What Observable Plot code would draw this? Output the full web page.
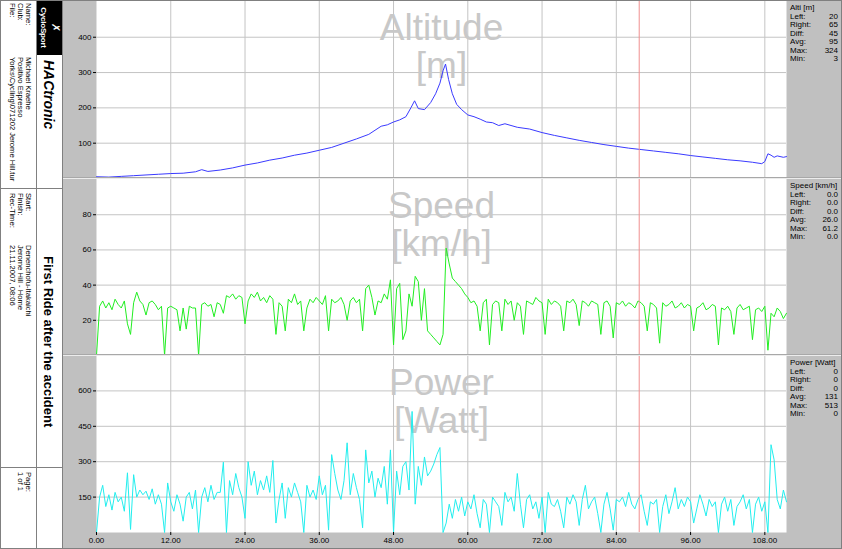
<!DOCTYPE html>
<html>
<head>
<meta charset="utf-8">
<script src="https://cdn.jsdelivr.net/npm/d3@7"></script>
<script src="https://cdn.jsdelivr.net/npm/@observablehq/plot@0.6"></script>
<style>
html, body { margin: 0; padding: 0; background: #fff; }
#root { position: relative; width: 842px; height: 549px; overflow: hidden; background: #c0c0c0;
  font-family: Arial, "Liberation Sans", sans-serif; color: #000; }
#left { position: absolute; left: 0; top: 0; width: 62px; height: 549px; background: #fff; }
#hdr { position: absolute; left: 62px; top: 0; width: 549px; height: 62px; transform-origin: 0 0; transform: rotate(90deg); }
#hdr div { position: absolute; white-space: nowrap; }
.small { font-size: 7.6px; line-height: 8px; }
.pane { position: absolute; left: 62px; }
.stats { position: absolute; left: 786px; width: 52px; font-size: 8px; line-height: 8.5px; }
.stats .row { position: relative; height: 8.5px; padding-left: 4px; }
.stats .row span.v { position: absolute; right: 0; top: 0; }
.sep { position: absolute; left: 62px; width: 780px; height: 1px; }
</style>
</head>
<body>
<div id="root">
  <div id="left"><div id="hdr"></div></div>
</div>
<script>
// ---------- data ----------
const xMax = 111.5;
const xTicks = [0, 12, 24, 36, 48, 60, 72, 84, 96, 108];
const cursorKm = 87.7;
const step = 0.5;

const altKm = [0, 2, 4, 6, 8, 10, 12, 14, 16, 17, 18, 20, 22, 24, 26, 28, 30, 32, 34, 36, 38, 40, 42, 44, 46, 47, 48, 49, 50, 50.8, 51.4, 52, 53, 54, 54.8, 55.5, 56, 56.4, 56.9, 57.5, 58.2, 59, 60, 61, 62, 63, 64, 65, 66, 68, 70, 72, 74, 76, 78, 80, 82, 84, 86, 88, 90, 92, 94, 96, 98, 100, 102, 104, 106, 107.5, 108, 108.5, 109, 109.5, 110, 111, 111.5];
const altM = [5, 4, 6, 8, 10, 12, 14, 15, 19, 25, 20, 24, 30, 38, 44, 52, 58, 66, 72, 80, 88, 100, 112, 125, 148, 152, 160, 166, 175, 200, 220, 198, 195, 215, 240, 270, 305, 324, 280, 240, 210, 195, 180, 175, 168, 160, 158, 150, 155, 145, 140, 130, 122, 115, 108, 102, 96, 91, 86, 82, 78, 74, 70, 65, 61, 57, 53, 50, 46, 42, 48, 70, 66, 60, 64, 60, 62];

const speedKmh = [
  0, 28, 31, 27, 30, 26, 32, 29, 27, 31,
  18, 12, 30, 36, 31, 29, 23, 30, 31, 29,
  26, 28, 0, 27, 28, 27, 26, 14, 27, 15,
  28, 27, 27, 0, 29, 30, 28, 29, 22, 30,
  29, 24, 34, 33, 35, 32, 34, 33, 18, 31,
  35, 33, 36, 31, 33, 30, 34, 32, 12, 30,
  28, 14, 32, 30, 35, 29, 31, 14, 27, 32,
  30, 33, 31, 29, 34, 14, 32, 30, 31, 33,
  29, 20, 31, 33, 30, 32, 14, 38, 40, 33,
  23, 31, 30, 35, 32, 43, 6, 38, 41, 9,
  14, 35, 28, 45, 42, 20, 38, 14, 12, 10,
  8, 6, 12, 61, 52, 44, 42, 40, 38, 35,
  33, 30, 31, 28, 14, 30, 32, 6, 29, 31,
  30, 14, 32, 29, 31, 20, 30, 28, 12, 31,
  30, 29, 33, 31, 30, 12, 32, 29, 31, 30,
  28, 14, 31, 30, 32, 29, 17, 31, 30, 28,
  31, 30, 29, 12, 30, 31, 28, 10, 30, 29,
  31, 28, 30, 29, 27, 31, 30, 28, 14, 30,
  29, 27, 7, 30, 28, 29, 31, 27, 28, 30,
  27, 29, 28, 14, 27, 28, 30, 26, 27, 29,
  28, 6, 27, 26, 28, 25, 12, 27, 29, 26,
  27, 28, 9, 26, 27, 25, 28, 3, 24, 22,
  27, 25, 21, 24
];

const powerW = [
  0, 150, 200, 110, 160, 95, 170, 130, 150, 90,
  253, 13, 245, 150, 180, 160, 175, 140, 185, 120,
  160, 120, 0, 210, 130, 90, 160, 120, 48, 150,
  170, 100, 180, 0, 150, 190, 130, 200, 140, 170,
  170, 298, 0, 220, 160, 250, 190, 150, 60, 300,
  200, 260, 160, 220, 180, 240, 170, 305, 40, 140,
  210, 60, 190, 150, 210, 170, 130, 0, 200, 150,
  180, 140, 240, 160, 200, 10, 330, 250, 180, 140,
  220, 380, 160, 250, 190, 140, 20, 350, 210, 260,
  150, 230, 190, 280, 120, 350, 0, 260, 160, 280,
  300, 180, 513, 120, 280, 200, 320, 240, 260, 290,
  330, 360, 0, 40, 120, 60, 140, 90, 150, 70,
  130, 100, 160, 80, 20, 140, 120, 0, 150, 130,
  110, 30, 170, 130, 150, 90, 250, 120, 20, 140,
  160, 100, 130, 60, 150, 0, 170, 120, 110, 140,
  90, 20, 150, 120, 160, 130, 30, 140, 200, 100,
  130, 150, 80, 0, 120, 170, 100, 10, 140, 130,
  150, 110, 170, 120, 100, 140, 160, 90, 30, 130,
  120, 140, 0, 110, 160, 80, 130, 190, 100, 140,
  110, 150, 130, 40, 100, 160, 120, 70, 140, 110,
  130, 0, 120, 150, 90, 140, 30, 110, 130, 160,
  100, 140, 0, 120, 150, 90, 130, 0, 372, 308,
  140, 100, 180, 130
];

const altTicks = [100, 200, 300, 400];
const speedTicks = [20, 40, 60, 80];
const powerTicks = [150, 300, 450, 600];

const titles = ["Altitude\n[m]", "Speed\n[km/h]", "Power\n[Watt]"];
const statHeads = ["Alti [m]", "Speed [km/h]", "Power [Watt]"];
const statLabels = ["Left:", "Right:", "Diff:", "Avg:", "Max:", "Min:"];
const altStats = ["20", "65", "45", "95", "324", "3"];
const speedStats = ["0.0", "0.0", "0.0", "26.0", "61.2", "0.0"];
const powerStats = ["0", "0", "0", "131", "513", "0"];

const logoText = "CycloSport";
const programName = "HACtronic";
const headLabels1 = ["Name:", "Club:", "File:"];
const headValues1 = ["Michael Kraehe", "Positivo Espresso", "Yorks\\Cycling\\071202 Jerome Hill.tur"];
const headLabels2 = ["Start:", "Finish:", "Rec-Time:"];
const headValues2 = ["Denenchofu-Itakaichi", "Jerome Hill - Home", "21.11.2007, 08:06"];
const rideTitle = "First Ride after the accident";
const pageInfo = ["Page:", "1 of 1"];

// ---------- build ----------
const root = document.getElementById("root");
const FONT = "Arial, 'Liberation Sans', sans-serif";

function panel(series, {domain, ticks, title, stroke, height, marginBottom = 0, xAxis = false}) {
  const marks = [
    Plot.frame({fill: "#fff", stroke: "none"}),
    Plot.gridX(xTicks.slice(1), {stroke: "#c4c4c4", strokeOpacity: 1}),
    Plot.gridY(ticks, {stroke: "#c4c4c4", strokeOpacity: 1}),
    Plot.text([title], {text: d => d, frameAnchor: "top", lineAnchor: "top", dy: 12, fontSize: 37,
      fill: "#c8c8c8", lineHeight: 1.03, fontFamily: FONT}),
    Plot.axisY(ticks, {tickSize: 3, tickPadding: 2, fontSize: 8, label: null, stroke: "#000", fill: "#000"}),
    Plot.line(series, {x: "km", y: "v", stroke, strokeWidth: 1}),
    Plot.ruleX([cursorKm], {stroke: "#f09090", strokeWidth: 1})
  ];
  if (xAxis) marks.push(Plot.axisX(xTicks, {tickSize: 3, tickPadding: 2, fontSize: 8, label: null,
    tickFormat: d3.format(".2f"), stroke: "#000", fill: "#000"}));
  return Plot.plot({
    width: 724, height,
    marginLeft: 34, marginRight: 0, marginTop: 0, marginBottom,
    style: `background: transparent; font-family: ${FONT}; font-size: 8px; color: #000; overflow: visible;`,
    x: {domain: [0, xMax], axis: xAxis ? undefined : null},
    y: {domain, axis: null},
    marks
  });
}

const altSeries = altKm.map((k, i) => ({km: k, v: altM[i]}));
const speedSeries = speedKmh.map((v, i) => ({km: i * step, v}));
const powerSeries = powerW.map((v, i) => ({km: i * step, v}));

const panes = [
  {top: 0, el: panel(altSeries, {domain: [0, 504], ticks: altTicks, title: titles[0], stroke: "#3a3aff", height: 178})},
  {top: 178, el: panel(speedSeries, {domain: [0, 100.6], ticks: speedTicks, title: titles[1], stroke: "#22ee22", height: 177})},
  {top: 355, el: panel(powerSeries, {domain: [0, 750], ticks: powerTicks, title: titles[2], stroke: "#22eeee", height: 194, marginBottom: 17, xAxis: true})}
];
for (const p of panes) {
  const d = document.createElement("div");
  d.className = "pane";
  d.style.top = p.top + "px";
  d.appendChild(p.el);
  root.appendChild(d);
}

// separators
for (const [y, c] of [[177, "#a8a8a8"], [178, "#ececec"], [354, "#a8a8a8"], [355, "#ececec"]]) {
  const s = document.createElement("div");
  s.className = "sep";
  s.style.top = y + "px";
  s.style.background = c;
  root.appendChild(s);
}

// stats
const statSets = [altStats, speedStats, powerStats];
[0, 178, 355].forEach((top, k) => {
  const box = document.createElement("div");
  box.className = "stats";
  box.style.top = (top + 4) + "px";
  const h = document.createElement("div");
  h.className = "row";
  h.textContent = statHeads[k];
  box.appendChild(h);
  statLabels.forEach((lab, i) => {
    const r = document.createElement("div");
    r.className = "row";
    r.innerHTML = `<span>${lab}</span><span class="v">${statSets[k][i]}</span>`;
    box.appendChild(r);
  });
  root.appendChild(box);
});

// borders
function rect(parent, x, y, w, h, c) {
  const d = document.createElement("div");
  d.style.cssText = `position:absolute;left:${x}px;top:${y}px;width:${w}px;height:${h}px;background:${c}`;
  parent.appendChild(d);
  return d;
}
rect(root, 0, 0, 842, 1, "#808080");
rect(root, 0, 548, 842, 1, "#808080");
rect(root, 0, 0, 1, 549, "#808080");
rect(root, 841, 0, 1, 549, "#808080");
rect(root, 62, 0, 1, 549, "#808080");

// rotated header (unrotated coords: u along 549, v along 62)
const hdr = document.getElementById("hdr");
const logo = rect(hdr, 0, 0, 55, 25, "#000");
logo.innerHTML = `<div style="position:absolute;left:0;width:55px;top:1px;text-align:center;color:#fff;font:bold 11px 'DejaVu Sans';line-height:11px">&#x2717;</div>
<div style="position:absolute;left:0;width:55px;top:14px;text-align:center;color:#fff;font:bold 8px ${FONT};line-height:9px;letter-spacing:-0.2px">${logoText}</div>`;
const prog = document.createElement("div");
prog.style.cssText = `left:60px;top:5px;font:italic bold 14px ${FONT};line-height:16px`;
prog.textContent = programName;
hdr.appendChild(prog);
rect(hdr, 0, 25, 549, 1, "#808080");
rect(hdr, 188, 0, 1, 62, "#808080");
rect(hdr, 467, 0, 1, 62, "#808080");

function rows(u, lines) {
  const d = document.createElement("div");
  d.className = "small";
  d.style.left = u + "px";
  d.style.top = "30px";
  d.innerHTML = lines.map(s => s.replace(/&/g, "&amp;")).join("<br>");
  hdr.appendChild(d);
}
rows(3, headLabels1);
rows(57, headValues1);
rows(193, headLabels2);
rows(245, headValues2);
rows(472, pageInfo);
const rt = document.createElement("div");
rt.style.cssText = `left:256px;top:6px;font:bold 13px ${FONT};line-height:15px`;
rt.textContent = rideTitle;
hdr.appendChild(rt);
</script>
</body>
</html>
